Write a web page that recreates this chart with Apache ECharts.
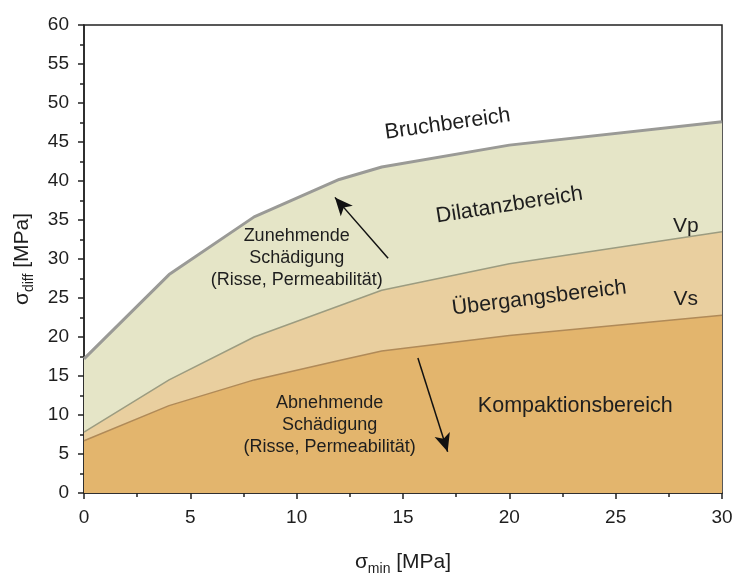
<!DOCTYPE html>
<html><head><meta charset="utf-8">
<script src="https://cdn.jsdelivr.net/npm/echarts@6/dist/echarts.min.js"></script>
<style>html,body{margin:0;padding:0;background:#fff}#c{width:733px;height:574px}</style>
</head><body><div id="c"></div>
<script>
const xBruch = [0, 4, 8, 12, 14, 20, 30];
const yBruch = [17.2, 28, 35.4, 40.2, 41.8, 44.6, 47.6];
const xVp = [0, 4, 8, 14, 20, 30];
const yVp = [7.8, 14.5, 20, 26, 29.4, 33.5];
const xVs = [0, 4, 8, 12, 14, 20, 30];
const yVs = [6.7, 11.2, 14.5, 17, 18.2, 20.2, 22.8];
const xTicks = [0, 5, 10, 15, 20, 25, 30];
const yTicks = [0, 5, 10, 15, 20, 25, 30, 35, 40, 45, 50, 55, 60];
const arrowUp = [[14.3, 30.1], [11.8, 37.9]];
const arrowDown = [[15.7, 17.3], [17.1, 5.3]];

const pair = (xs, ys) => xs.map((x, i) => [x, ys[i]]);
const FONT = 'Liberation Sans, Arial, sans-serif';
const TXT = '#1e1e1e';
const chart = echarts.init(document.getElementById('c'), null, {renderer: 'canvas'});

const option = {
  animation: false,
  backgroundColor: '#fff',
  grid: {left: 84, right: 11, top: 25, bottom: 81, containLabel: false, outerBoundsMode: 'none',
    show: true, borderColor: '#222', borderWidth: 1.5, backgroundColor: '#fff'},
  xAxis: {
    type: 'value', min: 0, max: 30, interval: 5,
    name: 'σ{sub|min} [MPa]', nameLocation: 'middle', nameGap: 55,
    nameTextStyle: {fontSize: 21, color: TXT, fontFamily: FONT,
      rich: {sub: {fontSize: 14, color: TXT, fontFamily: FONT, padding: [14, 0, 0, 0]}}},
    axisLine: {show: true, lineStyle: {color: '#222', width: 1.5}},
    axisTick: {show: true, inside: false, length: 6, lineStyle: {color: '#222', width: 1.5}},
    minorTick: {show: true, splitNumber: 2, length: 4, lineStyle: {color: '#222', width: 1.5}},
    axisLabel: {fontSize: 19, color: TXT, fontFamily: FONT, margin: 15},
    splitLine: {show: false}
  },
  yAxis: {
    type: 'value', min: 0, max: 60, interval: 5,
    name: 'σ{sub|diff} [MPa]', nameLocation: 'middle', nameGap: 48, nameRotate: 90,
    nameTextStyle: {fontSize: 21, color: TXT, fontFamily: FONT,
      rich: {sub: {fontSize: 14, color: TXT, fontFamily: FONT, padding: [14, 0, 0, 0]}}},
    axisLine: {show: true, lineStyle: {color: '#222', width: 1.5}},
    axisTick: {show: true, inside: false, length: 6, lineStyle: {color: '#222', width: 1.5}},
    minorTick: {show: true, splitNumber: 2, length: 4, lineStyle: {color: '#222', width: 1.5}},
    axisLabel: {fontSize: 19, color: TXT, fontFamily: FONT, margin: 15},
    splitLine: {show: false}
  },
  series: [
    {type: 'line', name: 'Bruch', data: pair(xBruch, yBruch), symbol: 'none', z: 2,
     lineStyle: {color: '#9a9a96', width: 3}, areaStyle: {color: '#e5e5c7', opacity: 1}},
    {type: 'line', name: 'Vp', data: pair(xVp, yVp), symbol: 'none', z: 3,
     lineStyle: {color: '#9c9c80', width: 1.5}, areaStyle: {color: '#e9cf9f', opacity: 1}},
    {type: 'line', name: 'Vs', data: pair(xVs, yVs), symbol: 'none', z: 4,
     lineStyle: {color: '#b08a58', width: 1.5}, areaStyle: {color: '#e3b56d', opacity: 1},
     markLine: {silent: true, symbol: ['none', 'arrow'], symbolSize: [12, 18],
       lineStyle: {color: '#111', width: 1.5, type: 'solid'}, label: {show: false},
       data: [
         [{coord: arrowUp[0]}, {coord: arrowUp[1]}],
         [{coord: arrowDown[0]}, {coord: arrowDown[1]}]
       ]}}
  ]
};
chart.setOption(option);

const labels = [
  {t: 'Bruchbereich', p: [17.1, 47.3], r: 8, s: 21.5},
  {t: 'Dilatanzbereich', p: [20.0, 36.9], r: 9, s: 21.5},
  {t: 'Vp', p: [28.3, 34.2], r: 0, s: 21},
  {t: 'Übergangsbereich', p: [21.4, 25.0], r: 7, s: 21.5},
  {t: 'Vs', p: [28.3, 24.9], r: 0, s: 21},
  {t: 'Kompaktionsbereich', p: [23.1, 11.2], r: 0, s: 21.5},
  {t: 'Zunehmende\nSchädigung\n(Risse, Permeabilität)', p: [10.0, 30.1], r: 0, s: 18, lh: 22},
  {t: 'Abnehmende\nSchädigung\n(Risse, Permeabilität)', p: [11.55, 8.7], r: 0, s: 18, lh: 22}
];
const graphic = labels.map(l => {
  const px = chart.convertToPixel({gridIndex: 0}, l.p);
  return {type: 'text', x: px[0], y: px[1], rotation: l.r * Math.PI / 180, z: 100,
    style: {text: l.t, fontSize: l.s, fontFamily: FONT, fill: TXT, align: 'center', verticalAlign: 'middle', lineHeight: l.lh || l.s * 1.2}};
});
chart.setOption({graphic: graphic});
</script></body></html>
